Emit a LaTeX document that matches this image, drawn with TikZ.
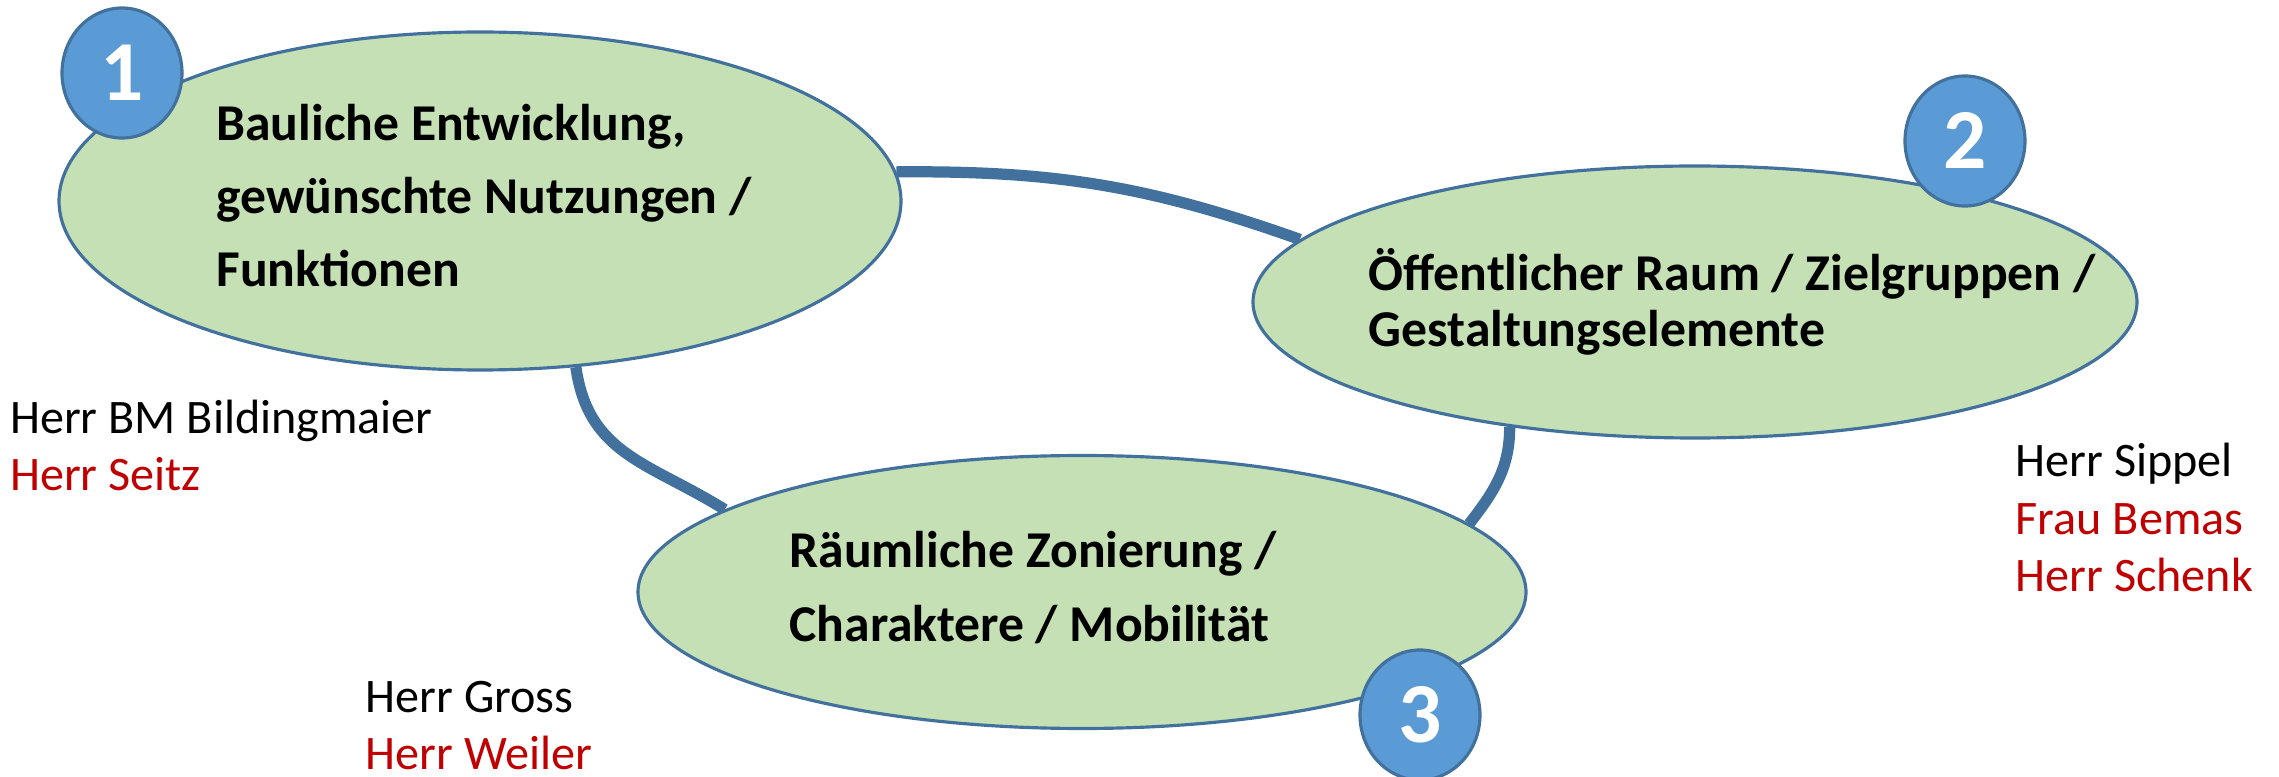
\documentclass[tikz,border=0pt]{standalone}
\usepackage{fontspec}
\setmainfont{Carlito}
\usetikzlibrary{shapes.geometric,backgrounds}

\definecolor{topicgreen}{RGB}{197,224,180}
\definecolor{ringblue}{RGB}{65,113,156}
\definecolor{badgeblue}{RGB}{91,155,213}
\definecolor{namered}{RGB}{192,0,0}

\tikzset{
  topic/.style={ellipse,draw=ringblue,fill=topicgreen,line width=0.9pt,inner sep=0pt},
  topictext/.style={align=left,inner sep=0pt,font=\fontsize{14.7}{20.8}\selectfont\bfseries},
  badge/.style={ellipse,draw=ringblue,fill=badgeblue,line width=0.9pt,inner sep=0pt,
    minimum width=1.2cm,minimum height=1.3cm,text=white,font=\fontsize{24.3}{29}\selectfont\bfseries},
  names/.style={align=left,anchor=base west,inner sep=0pt,font=\fontsize{13.7}{16.4}\selectfont},
  link/.style={ringblue,line width=3.2pt}
}

\begin{document}
\begin{tikzpicture}
  \useasboundingbox (0,0) rectangle (22.79,7.76);

  % the three topics
  \node[topic,minimum width=8.42cm,minimum height=3.38cm] (e1) at (4.80,5.75) {};
  \node[topic,minimum width=8.84cm,minimum height=2.72cm] (e2) at (16.95,4.74) {};
  \node[topic,minimum width=8.88cm,minimum height=2.73cm] (e3) at (10.82,1.84) {};

  \node[topictext,xshift=0.04cm,yshift=0.055cm] (t1) at (e1.center)
    {Bauliche Entwicklung,\\gewünschte Nutzungen /\\Funktionen};
  \node[topictext,xshift=0.37cm,font=\fontsize{14.7}{16.1}\selectfont\bfseries] (t2) at (e2.center)
    {Öffentlicher Raum / Zielgruppen /\\Gestaltungselemente};
  \node[topictext,xshift=-0.49cm,yshift=0.045cm] (t3) at (e3.center)
    {Räumliche Zonierung /\\Charaktere / Mobilität};

  % numbers
  \node[badge] (b1) at (1.22,7.03) {1};
  \node[badge] (b2) at (19.65,6.35) {2};
  \node[badge] (b3) at (14.20,0.61) {3};

  % ring pieces behind the topics
  \begin{scope}[on background layer]
    \draw[link] (e1.4)   to[bend left=10] (e2.171);
    \draw[link] (e1.-60) to[out=-82,in=148,looseness=1.1] (e3.167);
    \draw[link] (e2.214) to[out=-90,in=52]  (e3.10);
  \end{scope}

  % people
  \node[names] (p1) at (0.095,2.85) {Herr BM Bildingmaier\\\textcolor{namered}{Herr Seitz}};
  \node[names] (p2) at (20.15,1.84) {Herr Sippel\\\textcolor{namered}{Frau Bemas}\\\textcolor{namered}{Herr Schenk}};
  \node[names] (p3) at (3.65,0.06) {Herr Gross\\\textcolor{namered}{Herr Weiler}};
\end{tikzpicture}
\end{document}
